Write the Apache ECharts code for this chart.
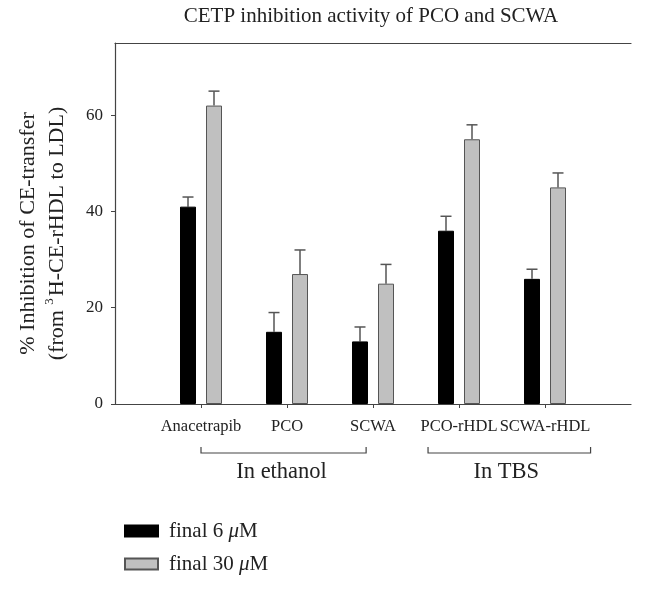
<!DOCTYPE html>
<html>
<head>
<meta charset="utf-8">
<script src="https://cdn.jsdelivr.net/npm/echarts@6/dist/echarts.min.js"></script>
<style>html,body{margin:0;padding:0;background:#fff;}#c{width:645px;height:589px;}</style>
</head>
<body>
<div id="c"></div>
<script>
var categories = ['', 'Anacetrapib', 'PCO', 'SCWA', 'PCO-rHDL', 'SCWA-rHDL', ''];
var mean6 = [null, 41, 15, 13, 36, 26, null];
var err6 = [null, 2, 4, 3, 3, 2, null];
var mean30 = [null, 62, 27, 25, 55, 45, null];
var err30 = [null, 3, 5, 4, 3, 3, null];
var yTicks = [0, 20, 40, 60];
var seriesNames = ['final 6 μM', 'final 30 μM'];

var FONT = '"Liberation Serif", "DejaVu Serif", serif';
var BAR_W = 16, BAR_GAP = 10;
var OFF = (BAR_W + BAR_GAP) / 2;

function errData(means, errs) {
  var out = [];
  for (var i = 0; i < means.length; i++) {
    if (means[i] != null) out.push([i, means[i], errs[i]]);
  }
  return out;
}
function errRender(sign) {
  return function (params, api) {
    var idx = api.value(0), m = api.value(1), e = api.value(2);
    var p0 = api.coord([idx, m]);
    var p1 = api.coord([idx, m + e]);
    var x = p0[0] + sign * OFF;
    var st = { stroke: '#555', lineWidth: 1.5 };
    return {
      type: 'group',
      children: [
        { type: 'line', shape: { x1: x, y1: p0[1], x2: x, y2: p1[1] }, style: st },
        { type: 'line', shape: { x1: x - 5.5, y1: p1[1], x2: x + 5.5, y2: p1[1] }, style: st }
      ]
    };
  };
}

var chart = echarts.init(document.getElementById('c'));
chart.setOption({
  animation: false,
  backgroundColor: '#fff',
  title: {
    text: 'CETP inhibition activity of PCO and SCWA',
    left: 366, top: 1, textAlign: 'center',
    textStyle: { fontFamily: FONT, fontSize: 21, fontWeight: 'normal', color: '#222' }
  },
  grid: { left: 115, right: 14, top: 43, bottom: 185, outerBoundsMode: 'none', containLabel: false },
  legend: {
    orient: 'vertical', left: 119, top: 515,
    itemWidth: 33, itemHeight: 11, itemGap: 11, icon: 'rect',
    data: seriesNames,
    formatter: function (n) { return n.replace('μ', '{it|μ}'); },
    textStyle: {
      fontFamily: FONT, fontSize: 21, color: '#222', lineHeight: 22, padding: [0, 0, 0, 6],
      rich: { it: { fontStyle: 'italic', fontFamily: FONT, fontSize: 21, color: '#222' } }
    }
  },
  xAxis: [{
    type: 'category', data: categories, boundaryGap: false,
    axisLine: { lineStyle: { color: '#444', width: 1.2 } },
    axisTick: { length: 4, interval: function (i) { return i > 0 && i < categories.length - 1; }, lineStyle: { color: '#444' } },
    axisLabel: { interval: 0, margin: 14, fontFamily: FONT, fontSize: 16.5, color: '#222' }
  }, {
    type: 'category', data: categories, boundaryGap: false, position: 'top',
    axisLine: { show: true, lineStyle: { color: '#444', width: 1.2 } },
    axisTick: { show: false }, axisLabel: { show: false }
  }],
  yAxis: {
    type: 'value', min: 0, max: 75,
    splitLine: { show: false },
    axisLine: { show: true, lineStyle: { color: '#444', width: 1.2 } },
    axisTick: { show: true, length: 4, customValues: yTicks, lineStyle: { color: '#444' } },
    axisLabel: { customValues: yTicks, margin: 12, fontFamily: FONT, fontSize: 17, color: '#222' },
    name: '% Inhibition of CE-transfer\n(from {sup|3}H-CE-rHDL to LDL)',
    nameLocation: 'middle', nameRotate: 90, nameGap: 43,
    nameTextStyle: {
      fontFamily: FONT, fontSize: 22, color: '#222', lineHeight: 29, padding: [0, 20, 0, 0],
      rich: { sup: { fontFamily: FONT, fontSize: 13, color: '#222', verticalAlign: 'top', lineHeight: 29, padding: [0, 2, 10, 0] } }
    }
  },
  series: [{
    name: seriesNames[0], type: 'bar', data: mean6, barWidth: BAR_W, barGap: (BAR_GAP / BAR_W * 100) + '%',
    itemStyle: { color: '#000', borderColor: '#000', borderWidth: 1 }
  }, {
    name: seriesNames[1], type: 'bar', data: mean30, barWidth: BAR_W,
    itemStyle: { color: '#c0c0c0', borderColor: '#555', borderWidth: 1 }
  }, {
    type: 'custom', renderItem: errRender(-1), data: errData(mean6, err6), z: 1, silent: true
  }, {
    type: 'custom', renderItem: errRender(1), data: errData(mean30, err30), z: 1, silent: true
  }]
});

function px(i) { return chart.convertToPixel({ xAxisIndex: 0 }, i); }
var step = px(2) - px(1);
var yb = 453, yt = 447;
function bracket(x1, x2) {
  return {
    type: 'polyline', shape: { points: [[x1, yt], [x1, yb], [x2, yb], [x2, yt]] },
    style: { stroke: '#444', lineWidth: 1.2, fill: null }
  };
}
var e1 = px(1), e2 = px(3) - 0.08 * step;
var t1 = px(4) - 0.36 * step, t2 = px(5) + 0.53 * step;
chart.setOption({
  graphic: [
    bracket(e1, e2), bracket(t1, t2),
    { type: 'text', x: (e1 + e2) / 2 - 2, y: 472, style: { text: 'In ethanol', fontFamily: FONT, fontSize: 22.5, fill: '#222', align: 'center', verticalAlign: 'middle' } },
    { type: 'text', x: (t1 + t2) / 2 - 3, y: 472, style: { text: 'In TBS', fontFamily: FONT, fontSize: 22.5, fill: '#222', align: 'center', verticalAlign: 'middle' } }
  ]
});
</script>
</body>
</html>
